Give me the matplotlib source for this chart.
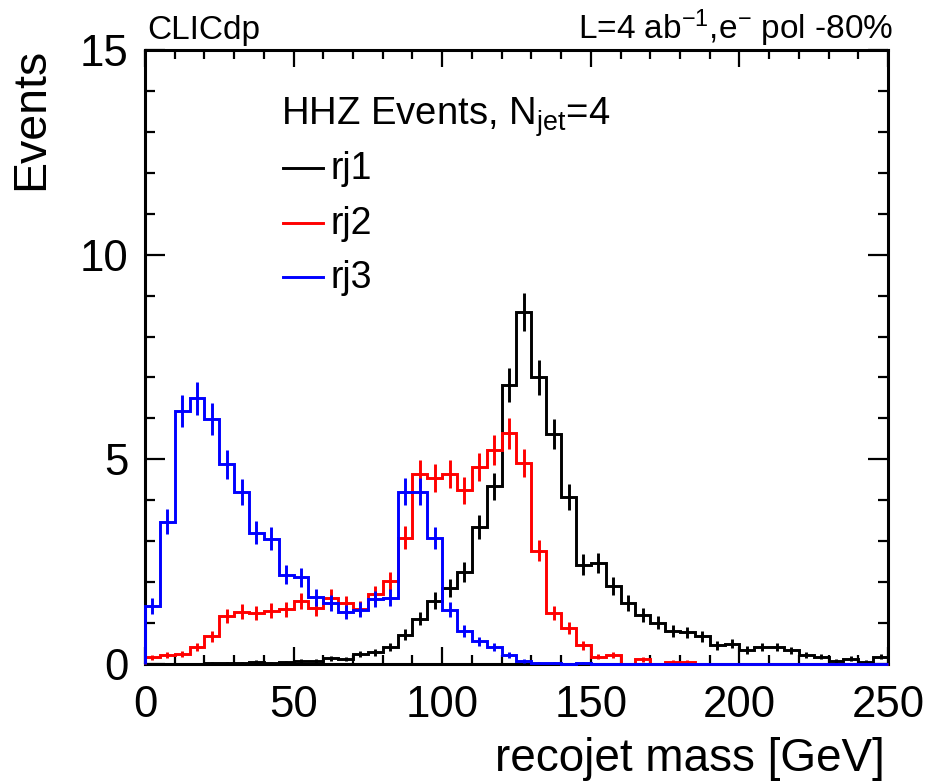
import numpy as np
import matplotlib
matplotlib.use("Agg")
import matplotlib.pyplot as plt
from matplotlib.ticker import MultipleLocator

# ---------------- data (5 GeV bins from 0 to 250 GeV) ----------------
bin_edges = np.arange(0, 255, 5)

rj1 = [0.00, 0.00, 0.01, 0.00, 0.02, 0.02, 0.03, 0.06, 0.03, 0.04,
       0.07, 0.08, 0.14, 0.12, 0.24, 0.29, 0.42, 0.72, 1.11, 1.55,
       1.86, 2.25, 3.34, 4.34, 6.82, 8.60, 7.00, 5.62, 4.08, 2.43,
       2.46, 1.91, 1.50, 1.20, 1.01, 0.81, 0.77, 0.68, 0.46, 0.49,
       0.34, 0.41, 0.41, 0.33, 0.21, 0.18, 0.08, 0.13, 0.06, 0.18]

rj2 = [0.16, 0.22, 0.24, 0.42, 0.68, 1.17, 1.28, 1.24, 1.30, 1.34,
       1.54, 1.36, 1.62, 1.48, 1.35, 1.70, 2.02, 3.09, 4.64, 4.54,
       4.64, 4.24, 4.81, 5.23, 5.64, 4.91, 2.77, 1.25, 0.87, 0.46,
       0.18, 0.22, 0.00, 0.11, 0.00, 0.06, 0.06, 0.00, 0.00, 0.00,
       0.00, 0.00, 0.00, 0.00, 0.00, 0.00, 0.00, 0.00, 0.00, 0.00]

rj3 = [1.42, 3.48, 6.19, 6.49, 5.99, 4.88, 4.20, 3.21, 3.06, 2.18,
       2.12, 1.63, 1.50, 1.27, 1.33, 1.59, 1.62, 4.21, 4.21, 3.08,
       1.33, 0.80, 0.55, 0.42, 0.22, 0.07, 0.02, 0.02, 0.00, 0.03,
       0.00, 0.00, 0.00, 0.00, 0.00, 0.00, 0.00, 0.00, 0.00, 0.00,
       0.00, 0.00, 0.00, 0.00, 0.00, 0.00, 0.00, 0.00, 0.00, 0.00]

series_labels = ["rj1", "rj2", "rj3"]
series_colors = ["#000000", "#ff0000", "#0000ff"]

# average event weight (error = sqrt(sum of w^2) ~ sqrt(w * content))
event_weight = 0.025

x_ticks_major = [0, 50, 100, 150, 200, 250]
y_ticks_major = [0, 5, 10, 15]

# ---------------- style ----------------
FONT = "Liberation Sans"
plt.rcParams["font.family"] = [FONT, "DejaVu Sans"]
plt.rcParams["mathtext.fontset"] = "custom"
plt.rcParams["mathtext.rm"] = FONT
plt.rcParams["mathtext.it"] = FONT + ":italic"
plt.rcParams["mathtext.bf"] = FONT + ":bold"

W, H = 928, 781
fig = plt.figure(figsize=(W / 100, H / 100), dpi=100)

ax_l, ax_r, ax_t, ax_b = 145, 888, 50, 664
ax = fig.add_axes([ax_l / W, (H - ax_b) / H, (ax_r - ax_l) / W, (ax_b - ax_t) / H])

centers = 0.5 * (bin_edges[:-1] + bin_edges[1:])
for vals, col in zip([rj1, rj2, rj3], series_colors):
    v = np.asarray(vals, dtype=float)
    ax.stairs(v, bin_edges, baseline=0, color=col, lw=2.1, zorder=3,
              clip_on=False)
    err = np.sqrt(event_weight * v)
    m = v > 0
    ax.errorbar(centers[m], v[m], yerr=err[m], fmt="none", ecolor=col,
                elinewidth=2.1, capsize=0, zorder=3)

ax.set_xlim(0, 250)
ax.set_ylim(0, 15)
ax.set_xticks(x_ticks_major)
ax.set_yticks(y_ticks_major)
ax.xaxis.set_minor_locator(MultipleLocator(10))
ax.yaxis.set_minor_locator(MultipleLocator(1))

for s in ax.spines.values():
    s.set_linewidth(2.2)
    s.set_zorder(2.5)

ax.tick_params(axis="both", which="both", direction="in", top=True, right=True,
               width=1.6, colors="black")
ax.tick_params(axis="x", which="major", length=12, pad=15, labelsize=31.5)
ax.tick_params(axis="x", which="minor", length=6.5)
ax.tick_params(axis="y", which="major", length=14.5, pad=12, labelsize=31.5)
ax.tick_params(axis="y", which="minor", length=7.2)

# axis titles
fig.text(885 / W, 1 - 771 / H, "recojet mass [GeV]", ha="right", va="baseline",
         fontsize=33)
fig.text(31 / W, 1 - 48 / H, "Events", ha="center", va="top", rotation=90,
         fontsize=33.5)

# top labels
fig.text(147 / W, 1 - 39 / H, "CLICdp", ha="left", va="baseline", fontsize=24)
fig.text(893 / W, 1 - 39 / H, r"L=4 ab$^{-1}$,e$^{-}$ pol -80%", ha="right",
         va="baseline", fontsize=24)

# legend (manual, ROOT style)
def fx(px):
    return (px - ax_l) / (ax_r - ax_l)

def fy(py):
    return (ax_b - py) / (ax_b - ax_t)

ax.text(fx(281), fy(125), r"HHZ Events, N$_{\mathrm{jet}}$=4", transform=ax.transAxes,
        ha="left", va="baseline", fontsize=27.5)
line_y = [168.3, 222.7, 277.3]
for lab, col, ly in zip(series_labels, series_colors, line_y):
    ax.plot([fx(282.7), fx(323.3)], [fy(ly), fy(ly)], color=col, lw=2.1,
            transform=ax.transAxes, clip_on=False, zorder=4)
    ax.text(fx(331), fy(ly + 11), lab, transform=ax.transAxes, ha="left",
            va="baseline", fontsize=27)

fig.savefig("out.png", dpi=100)
